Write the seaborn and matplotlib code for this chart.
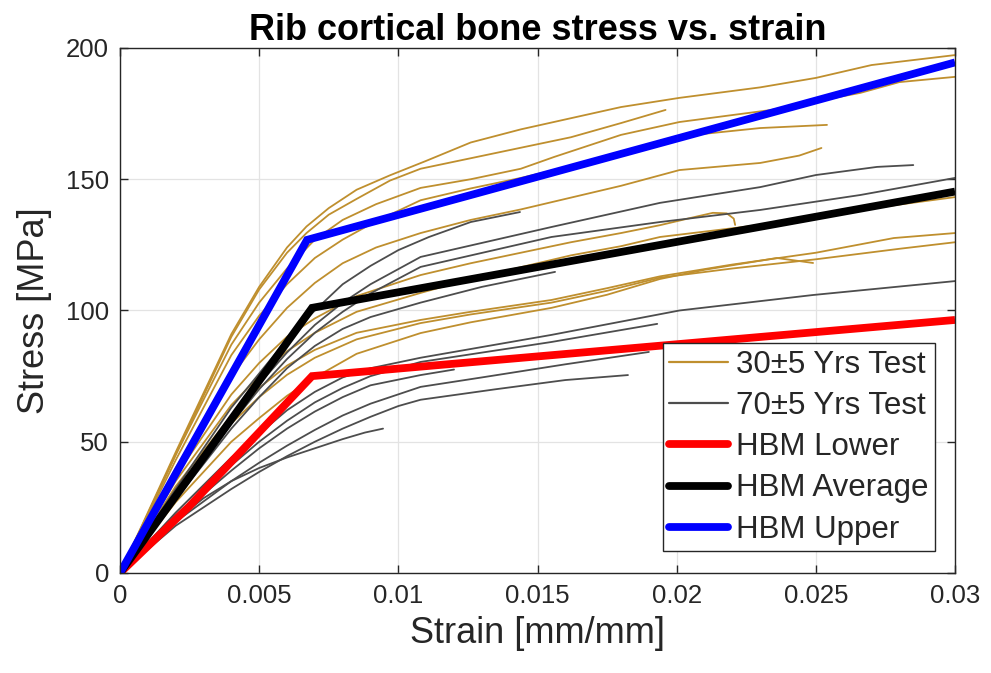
import matplotlib
matplotlib.use("Agg")
import matplotlib.pyplot as plt
from matplotlib.lines import Line2D
import pandas as pd
import seaborn as sns

# ---- test curves, 30±5 year donors: (strain [mm/mm], stress [MPa]) ----
y30_a = [(0, 0), (0.002, 46), (0.004, 91), (0.005, 109), (0.006, 124), (0.0067, 132),
         (0.0075, 139), (0.0085, 146), (0.0097, 151.5), (0.011, 157), (0.0126, 164),
         (0.0144, 169), (0.018, 177.5), (0.0201, 181), (0.023, 185), (0.025, 188.6),
         (0.027, 193.5), (0.03, 197.3)]
y30_b = [(0, 0), (0.002, 45), (0.004, 90), (0.005, 108), (0.006, 122), (0.0067, 129.5),
         (0.0075, 136.5), (0.0085, 142.5), (0.0097, 149.5), (0.0108, 154), (0.0126, 158),
         (0.0144, 162), (0.0162, 166), (0.0172, 169), (0.018, 171.4), (0.0196, 176.4)]
y30_c = [(0, 0), (0.002, 45), (0.004, 87), (0.005, 103), (0.006, 116), (0.007, 127),
         (0.008, 134.5), (0.0092, 140.5), (0.0108, 146.7), (0.0126, 150), (0.0144, 154),
         (0.0156, 158.5), (0.018, 166.9), (0.0201, 171.8), (0.0234, 176.4), (0.0266, 182.9),
         (0.028, 187), (0.03, 189)]
y30_d = [(0, 0), (0.002, 43), (0.004, 83), (0.005, 98), (0.006, 110), (0.007, 120),
         (0.008, 127), (0.0092, 134), (0.0108, 142), (0.0126, 146.5), (0.0144, 150.5),
         (0.0162, 155), (0.018, 159.5), (0.0209, 167.2), (0.023, 169.5), (0.0254, 170.7)]
y30_e = [(0, 0), (0.002, 40), (0.004, 75), (0.005, 89), (0.006, 101), (0.007, 110.5),
         (0.008, 118), (0.0092, 124), (0.0108, 129.5), (0.0126, 134.5), (0.0144, 138.5),
         (0.0162, 143), (0.018, 147.5), (0.0201, 153.5), (0.023, 156.2), (0.0244, 159),
         (0.0252, 161.9)]
y30_h = [(0, 0), (0.002, 37), (0.004, 68), (0.005, 80), (0.006, 90), (0.007, 97),
         (0.0085, 105.5), (0.0108, 113.5), (0.0126, 118), (0.0144, 122), (0.0162, 126),
         (0.018, 129.5), (0.0194, 132.5), (0.0206, 135.5), (0.0213, 137.2), (0.0218, 137),
         (0.02205, 135), (0.0221, 132.6)]
y30_i = [(0, 0), (0.002, 35), (0.004, 64), (0.005, 75), (0.006, 84.5), (0.007, 91.5),
         (0.0085, 99.5), (0.0108, 106.7), (0.0126, 112), (0.0144, 116.5), (0.0162, 121),
         (0.018, 124.5), (0.0194, 128), (0.023, 132.6), (0.026, 137.5), (0.03, 143.2)]
y30_j = [(0, 0), (0.002, 33), (0.004, 60), (0.005, 70.5), (0.006, 79), (0.007, 85),
         (0.0085, 91.5), (0.0108, 96.4), (0.0126, 99.5), (0.0155, 104), (0.0175, 108.5),
         (0.0194, 113), (0.022, 117.5), (0.025, 122), (0.0278, 127.6), (0.03, 129.5)]
y30_k = [(0, 0), (0.002, 32), (0.004, 57), (0.005, 67), (0.006, 75.5), (0.007, 82),
         (0.0085, 89), (0.0108, 95.2), (0.0126, 98.5), (0.0155, 103), (0.0175, 107.5),
         (0.0194, 112.5), (0.022, 116), (0.025, 119.5), (0.028, 123.5), (0.03, 126)]
y30_l = [(0, 0), (0.002, 27), (0.004, 50), (0.005, 59), (0.006, 67.5), (0.007, 74.5),
         (0.0085, 83.5), (0.0108, 91.4), (0.0126, 95.5), (0.0155, 101), (0.0175, 106),
         (0.0194, 112), (0.021, 115.5), (0.0236, 120), (0.0249, 118.1)]

# ---- test curves, 70±5 year donors ----
y70_1 = [(0, 0), (0.002, 32), (0.004, 63), (0.005, 76), (0.006, 89), (0.007, 100),
         (0.008, 110), (0.009, 117), (0.01, 123), (0.0111, 128), (0.0126, 133.7),
         (0.01437, 137.5)]
y70_2 = [(0, 0), (0.002, 30), (0.004, 59), (0.005, 72), (0.006, 84), (0.007, 94.5),
         (0.008, 103), (0.009, 110), (0.0108, 120.4), (0.0155, 131.8), (0.0194, 141),
         (0.023, 147), (0.025, 151.6), (0.0272, 154.7), (0.0285, 155.4)]
y70_3 = [(0, 0), (0.002, 29), (0.004, 57), (0.005, 70), (0.006, 81.5), (0.007, 91.5),
         (0.008, 99.5), (0.009, 106.5), (0.0108, 116.6), (0.0155, 128), (0.0194, 133.7),
         (0.023, 138.3), (0.0266, 144), (0.03, 150.5)]
y70_4 = [(0, 0), (0.002, 28), (0.004, 55), (0.005, 67), (0.006, 78), (0.007, 86.5),
         (0.008, 93), (0.009, 97.5), (0.0108, 103), (0.013, 109), (0.01563, 114.7)]
y70_5 = [(0, 0), (0.002, 23), (0.004, 44), (0.005, 53), (0.006, 62), (0.007, 69),
         (0.008, 74.5), (0.009, 78), (0.0108, 82), (0.0155, 90.7), (0.0201, 100),
         (0.0249, 105.9), (0.03, 111.2)]
y70_6 = [(0, 0), (0.002, 22), (0.004, 41), (0.005, 50), (0.006, 58), (0.007, 65),
         (0.008, 70.5), (0.009, 75), (0.0108, 80.4), (0.0155, 88), (0.0193, 94.9)]
y70_7 = [(0, 0), (0.002, 19.5), (0.004, 35), (0.005, 42), (0.006, 48.5), (0.007, 54.5),
         (0.008, 60), (0.009, 64.5), (0.0108, 70.9), (0.013, 74.5), (0.016, 79.5),
         (0.019, 84.2)]
y70_8 = [(0, 0), (0.002, 18), (0.004, 32), (0.005, 38.5), (0.006, 44.5), (0.007, 50),
         (0.008, 55), (0.009, 59.5), (0.01, 63.6), (0.0108, 66), (0.0135, 70),
         (0.016, 73.5), (0.01825, 75.4)]
y70_9 = [(0, 0), (0.002, 21), (0.004, 39), (0.005, 47.5), (0.006, 55), (0.007, 61.5),
         (0.008, 67), (0.009, 71.5), (0.0108, 75.4), (0.012, 77.5)]
y70_10 = [(0, 0), (0.002, 20), (0.003, 28.5), (0.004, 35), (0.005, 40), (0.006, 44),
          (0.007, 47.5), (0.008, 51), (0.0088, 53.5), (0.00945, 55)]

young_curves = [y30_a, y30_b, y30_c, y30_d, y30_e, y30_h, y30_i, y30_j, y30_k, y30_l]
old_curves = [y70_1, y70_2, y70_3, y70_4, y70_5, y70_6, y70_7, y70_8, y70_9, y70_10]

# ---- human body model material curves ----
hbm_lower_strain = [0, 0.0025, 0.0069, 0.03]
hbm_lower_stress = [0, 25.5, 75, 96.4]
hbm_avg_strain = [0, 0.0069, 0.03]
hbm_avg_stress = [0, 101, 145.3]
hbm_upper_strain = [0, 0.00672, 0.03]
hbm_upper_stress = [0, 126.9, 194.5]

x_ticks = [0, 0.005, 0.01, 0.015, 0.02, 0.025, 0.03]
x_tick_labels = ["0", "0.005", "0.01", "0.015", "0.02", "0.025", "0.03"]
y_ticks = [0, 50, 100, 150, 200]

legend_labels = ["30\u00b15 Yrs Test", "70\u00b15 Yrs Test", "HBM Lower", "HBM Average", "HBM Upper"]

GOLD = "#BF8F2E"
GREY = "#4D4D4D"


def to_frame(curves, group):
    rows = []
    for k, pts in enumerate(curves):
        for s, p in pts:
            rows.append({"strain": s, "stress": p, "curve": f"{group}{k}"})
    return pd.DataFrame(rows)


young_df = to_frame(young_curves, "y")
old_df = to_frame(old_curves, "o")
hbm_df = pd.concat([
    pd.DataFrame({"strain": hbm_lower_strain, "stress": hbm_lower_stress, "curve": "lower"}),
    pd.DataFrame({"strain": hbm_avg_strain, "stress": hbm_avg_stress, "curve": "avg"}),
    pd.DataFrame({"strain": hbm_upper_strain, "stress": hbm_upper_stress, "curve": "upper"}),
])

sns.set_theme(style="ticks")
plt.rcParams["font.family"] = ["Liberation Sans", "DejaVu Sans"]

fig = plt.figure(figsize=(9.91, 6.73), dpi=100)
ax = fig.add_axes([0.1211, 0.1486, 0.8426, 0.7801])

thin = 1.3
thick = 5.6
sns.lineplot(data=young_df, x="strain", y="stress", units="curve", estimator=None,
             sort=False, color=GOLD, lw=thin, ax=ax, legend=False)
sns.lineplot(data=old_df, x="strain", y="stress", units="curve", estimator=None,
             sort=False, color=GREY, lw=thin, ax=ax, legend=False)
for name, col in [("lower", "#FF0000"), ("avg", "#000000"), ("upper", "#0000FF")]:
    sns.lineplot(data=hbm_df[hbm_df["curve"] == name], x="strain", y="stress",
                 sort=False, estimator=None, color=col, lw=thick, ax=ax,
                 legend=False, solid_capstyle="butt", solid_joinstyle="miter")

ax.set_xlim(0, 0.03)
ax.set_ylim(0, 200)
ax.set_xticks(x_ticks)
ax.set_xticklabels(x_tick_labels)
ax.set_yticks(y_ticks)
ax.grid(True, color="#E3E3E3", lw=0.9)
ax.set_axisbelow(True)
ax.tick_params(direction="in", length=6, width=1, colors="#262626", labelsize=18.5,
               top=True, right=True, pad=8)
for sp in ax.spines.values():
    sp.set_color("#262626")
    sp.set_linewidth(1.0)

ax.set_xlabel("Strain [mm/mm]", fontsize=26, color="#262626", labelpad=6)
ax.set_ylabel("Stress [MPa]", fontsize=26, color="#262626", labelpad=10)
ax.set_title("Rib cortical bone stress vs. strain", fontsize=26, fontweight="bold",
             color="black", pad=6)

handles = [Line2D([], [], color=GOLD, lw=thin + 0.3),
           Line2D([], [], color=GREY, lw=thin + 0.3),
           Line2D([], [], color="#FF0000", lw=thick),
           Line2D([], [], color="#000000", lw=thick),
           Line2D([], [], color="#0000FF", lw=thick)]
leg = ax.legend(handles, legend_labels, loc="lower right", bbox_to_anchor=(0.976, 0.042),
                borderaxespad=0, fontsize=22.5, frameon=True, fancybox=False,
                handlelength=1.9, handletextpad=0.25, labelspacing=0.36,
                borderpad=0.2, framealpha=1)
leg.get_frame().set_edgecolor("#262626")
leg.get_frame().set_linewidth(1.0)

fig.savefig("out.png", dpi=100)
